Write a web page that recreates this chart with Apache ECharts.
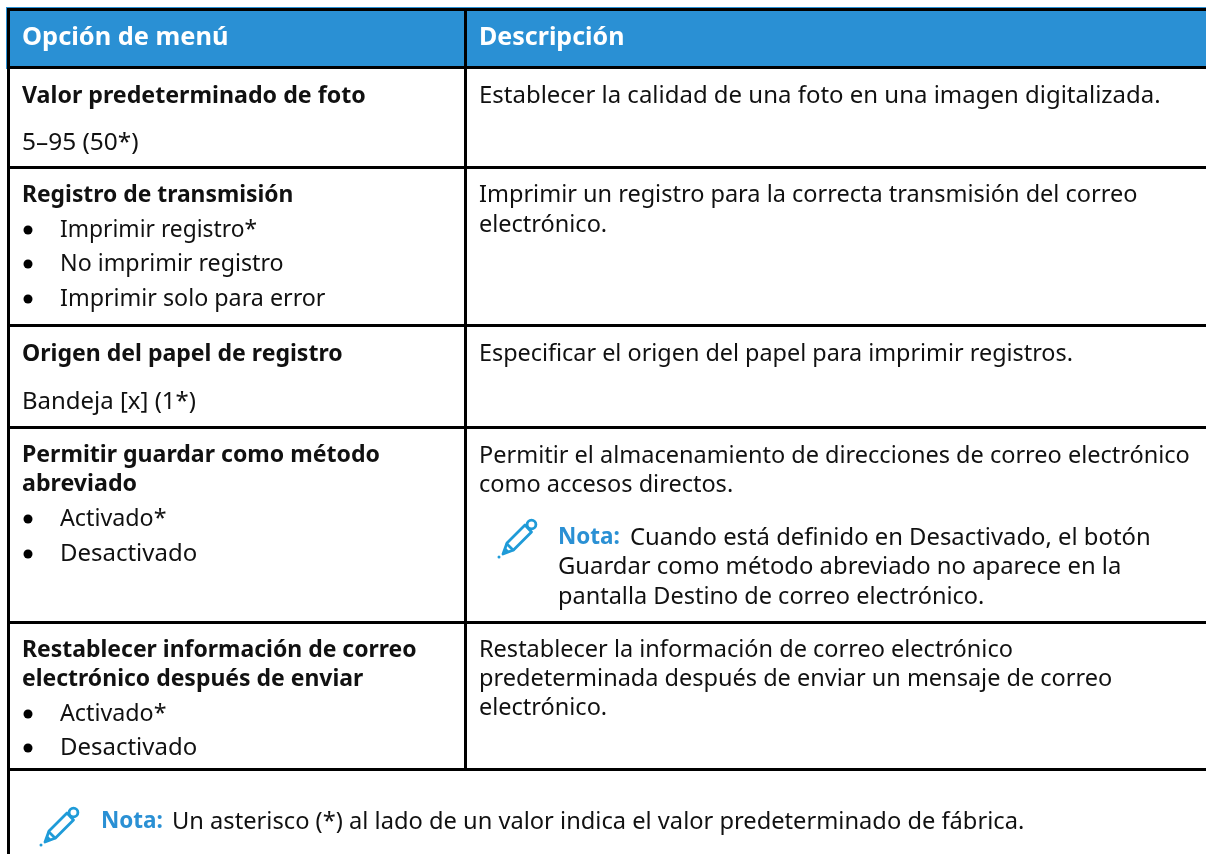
<!DOCTYPE html>
<html><head><meta charset="utf-8">
<style>html,body{margin:0;padding:0;background:#fff}#c{width:1206px;height:854px}</style>
<script src="https://cdn.jsdelivr.net/npm/echarts@6/dist/echarts.min.js"></script>
</head><body><div id="c"></div>
<script>
const headers = ["Opción de menú", "Descripción"];
const leftTexts = [
 ["b","Valor predeterminado de foto"],["n","5–95 (50*)"],
 ["b","Registro de transmisión"],["l","Imprimir registro*"],["l","No imprimir registro"],["l","Imprimir solo para error"],
 ["b","Origen del papel de registro"],["n","Bandeja [x] (1*)"],
 ["b","Permitir guardar como método"],["b","abreviado"],["l","Activado*"],["l","Desactivado"],
 ["b","Restablecer información de correo"],["b","electrónico después de enviar"],["l","Activado*"],["l","Desactivado"]
];
const rightTexts = [
 "Establecer la calidad de una foto en una imagen digitalizada.",
 "Imprimir un registro para la correcta transmisión del correo","electrónico.",
 "Especificar el origen del papel para imprimir registros.",
 "Permitir el almacenamiento de direcciones de correo electrónico","como accesos directos.",
 "Restablecer la información de correo electrónico","predeterminada después de enviar un mensaje de correo","electrónico."
];
const noteLabel = "Nota:";
const note1 = ["Cuando está definido en Desactivado, el botón","Guardar como método abreviado no aparece en la","pantalla Destino de correo electrónico."];
const note2 = "Un asterisco (*) al lado de un valor indica el valor predeterminado de fábrica.";

// layout
const leftY = [95,142,194,229,263,298,353,401,454,483,518,553,649,678,713,747];
const rightY = [95,194,224,353,455,484,649,678,707];
const leftFit = [1,1.04,.985,.97,.987,.99,.994,1.02,.995,1,.99,1.02,.99,.99,.99,1.02];
const rightFit = [1.02,1,1,.995,1,1,1,1,1];
const FONT = '"Noto Sans"', SIZE = 23.5, BOLD = 23.2, INK = '#111', BLUE = '#2a90d4', PEN = '#1f9bd8';
const g = [];
const text = (x,y,s,o={}) => g.push({type:'text',x,y:y+1,scaleX:o.fit||1,silent:true,style:Object.assign({text:s,fill:INK,font:`${o.w||400} ${o.size||SIZE}px ${FONT}`,textVerticalAlign:'middle',textBaseline:'middle'},o.style||{})});
const rect = (x,y,w,h,fill) => g.push({type:'rect',shape:{x,y,width:w,height:h},style:{fill},silent:true});
const pencil = (x,y) => {
  const line = (points,lw=2.8) => g.push({type:'polyline',x,y,silent:true,shape:{points},style:{fill:'none',stroke:PEN,lineWidth:lw,lineJoin:'round',lineCap:'round'}});
  line([[10,25],[28,7],[34.5,14],[16.5,32],[6,36],[10,25]]);
  line([[10,26],[16,32]]);
  g.push({type:'circle',x,y,silent:true,shape:{cx:34.5,cy:6.5,r:4.4},style:{fill:'none',stroke:PEN,lineWidth:2.8}});
  g.push({type:'polygon',x,y,silent:true,shape:{points:[[5.5,36.5],[8,29],[13,34]]},style:{fill:PEN}});
  g.push({type:'circle',x,y,silent:true,shape:{cx:2,cy:39,r:1.5},style:{fill:PEN}});
};
rect(6,7,1200,62,BLUE);
rect(7,8,3,846,'#000');
rect(7,8,1199,3,'#000');
[66,166,324,426,621,768].forEach(y=>rect(7,y,1199,3,'#000'));
rect(464,8,3,763,'#000');
text(22,37,headers[0],{w:700,size:25.4,style:{fill:'#fff'}});
text(479,37,headers[1],{w:700,size:25.4,fit:.985,style:{fill:'#fff'}});
leftTexts.forEach((t,i)=>{
  if(t[0]==='b') text(22,leftY[i],t[1],{w:700,size:BOLD,fit:leftFit[i]});
  else if(t[0]==='n') text(22,leftY[i],t[1],{fit:leftFit[i]});
  else { g.push({type:'circle',silent:true,shape:{cx:28,cy:leftY[i]+1,r:4.5},style:{fill:'#000'}}); text(60,leftY[i],t[1],{fit:leftFit[i]}); }
});
rightTexts.forEach((s,i)=>text(479,rightY[i],s,{fit:rightFit[i]}));
text(558,537,noteLabel,{w:700,size:22.5,style:{fill:BLUE}});
note1.forEach((s,i)=>text(i==0?630:558,[537,566,596][i],s,{fit:[1.014,1.014,1][i]}));
text(101,821,noteLabel,{w:700,size:22.5,style:{fill:BLUE}});
text(172,821,note2,{fit:1.007});
pencil(497,518); pencil(39,806);
const chart = echarts.init(document.getElementById('c'),null,{renderer:'canvas'});
chart.setOption({animation:false,graphic:{elements:g}});
</script></body></html>
